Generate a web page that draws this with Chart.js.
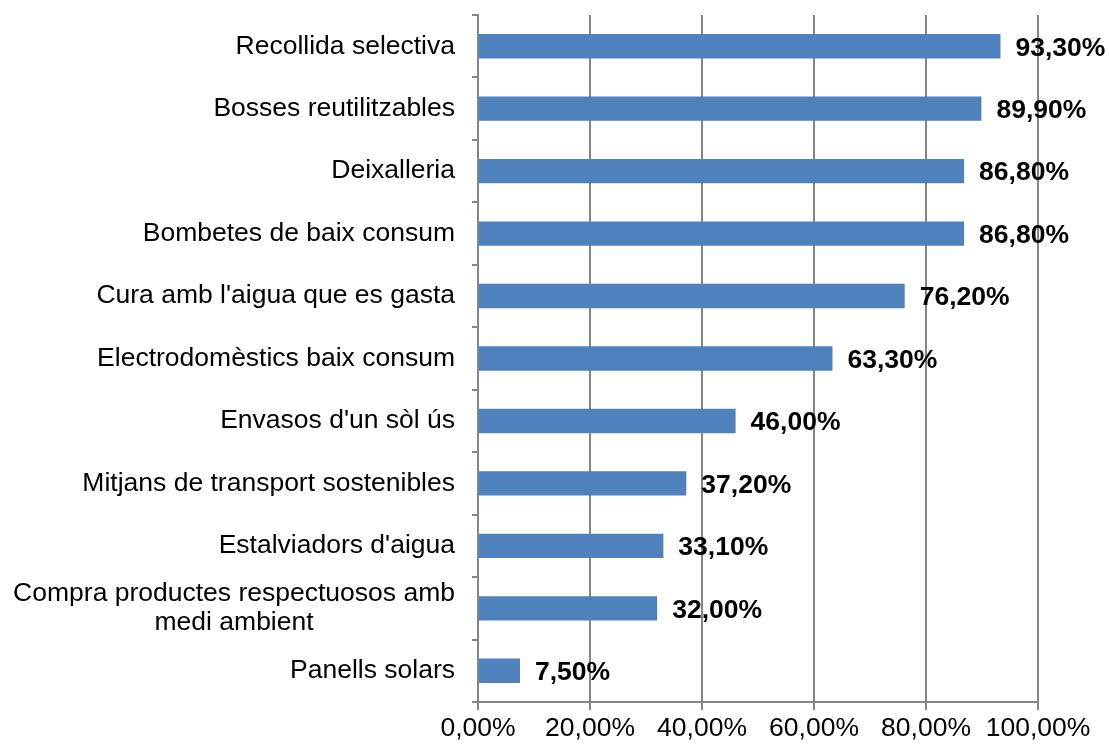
<!DOCTYPE html>
<html>
<head>
<meta charset="utf-8">
<script src="https://cdn.jsdelivr.net/npm/chart.js@4/dist/chart.umd.min.js"></script>
<style>
  html, body { margin: 0; padding: 0; background: #fff; }
  #wrap { width: 1109px; height: 745px; position: relative; }
</style>
</head>
<body>
<div id="wrap"><canvas id="grafic"></canvas></div>
<script>
// Dades
const categories = [
  'Recollida selectiva',
  'Bosses reutilitzables',
  'Deixalleria',
  'Bombetes de baix consum',
  "Cura amb l'aigua que es gasta",
  'Electrodomèstics baix consum',
  "Envasos d'un sòl ús",
  'Mitjans de transport sostenibles',
  "Estalviadors d'aigua",
  ['Compra productes respectuosos amb', 'medi ambient'],
  'Panells solars'
];
const valors = [93.3, 89.9, 86.8, 86.8, 76.2, 63.3, 46.0, 37.2, 33.1, 32.0, 7.5];
const ticksX = [0, 20, 40, 60, 80, 100];

const gris = '#868686';
const familia = '"Liberation Sans", Arial, sans-serif';
const fontNormal = '26.5px ' + familia;
const fontBold = 'bold 26.5px ' + familia;

function pct(v) {
  return v.toFixed(2).replace('.', ',') + '%';
}

// Etiquetes de categoria (línies centrades entre elles, bloc alineat a la dreta)
const etiquetesY = {
  id: 'etiquetesY',
  afterDraw(chart) {
    const ctx = chart.ctx;
    const y = chart.scales.y;
    const xDreta = chart.chartArea.left - 23;
    ctx.save();
    ctx.font = fontNormal;
    ctx.fillStyle = '#000';
    ctx.textBaseline = 'middle';
    ctx.textAlign = 'center';
    categories.forEach((cat, i) => {
      const linies = Array.isArray(cat) ? cat : [cat];
      const maxW = Math.max(...linies.map(l => ctx.measureText(l).width));
      const centre = xDreta - maxW / 2;
      const yc = y.getPixelForValue(i);
      linies.forEach((l, j) => {
        ctx.fillText(l, centre, yc + (j - (linies.length - 1) / 2) * 29);
      });
    });
    ctx.restore();
  }
};

// Valors al final de les barres
const etiquetesValor = {
  id: 'etiquetesValor',
  afterDatasetsDraw(chart) {
    const ctx = chart.ctx;
    const meta = chart.getDatasetMeta(0);
    ctx.save();
    ctx.font = fontBold;
    ctx.fillStyle = '#000';
    ctx.textAlign = 'left';
    ctx.textBaseline = 'middle';
    meta.data.forEach((bar, i) => {
      ctx.fillText(pct(valors[i]), bar.x + 15, bar.y + 2);
    });
    ctx.restore();
  }
};

new Chart(document.getElementById('grafic'), {
  type: 'bar',
  data: {
    labels: categories,
    datasets: [{
      data: valors,
      backgroundColor: '#4F81BD',
      borderWidth: 0,
      barPercentage: 0.39,
      categoryPercentage: 1
    }]
  },
  options: {
    indexAxis: 'y',
    responsive: true,
    maintainAspectRatio: false,
    animation: false,
    layout: { padding: { top: 15, right: 71, bottom: 0, left: 0 } },
    plugins: {
      legend: { display: false },
      tooltip: { enabled: false }
    },
    scales: {
      x: {
        min: 0,
        max: 100,
        afterBuildTicks(scale) {
          scale.ticks = ticksX.map(v => ({ value: v }));
        },
        afterFit(scale) { scale.height = 43; },
        grid: {
          color: gris,
          lineWidth: 2,
          tickLength: 8,
          tickColor: gris
        },
        border: { color: gris, width: 2 },
        ticks: {
          color: '#000',
          font: { family: familia, size: 26.5 },
          padding: 3,
          maxRotation: 0,
          callback: v => pct(v)
        }
      },
      y: {
        offset: true,
        afterFit(scale) { scale.width = 478; },
        grid: {
          offset: true,
          drawOnChartArea: false,
          tickLength: 6,
          color: gris,
          lineWidth: 2
        },
        border: { color: gris, width: 2 },
        ticks: { display: false }
      }
    }
  },
  plugins: [etiquetesY, etiquetesValor]
});
</script>
</body>
</html>
